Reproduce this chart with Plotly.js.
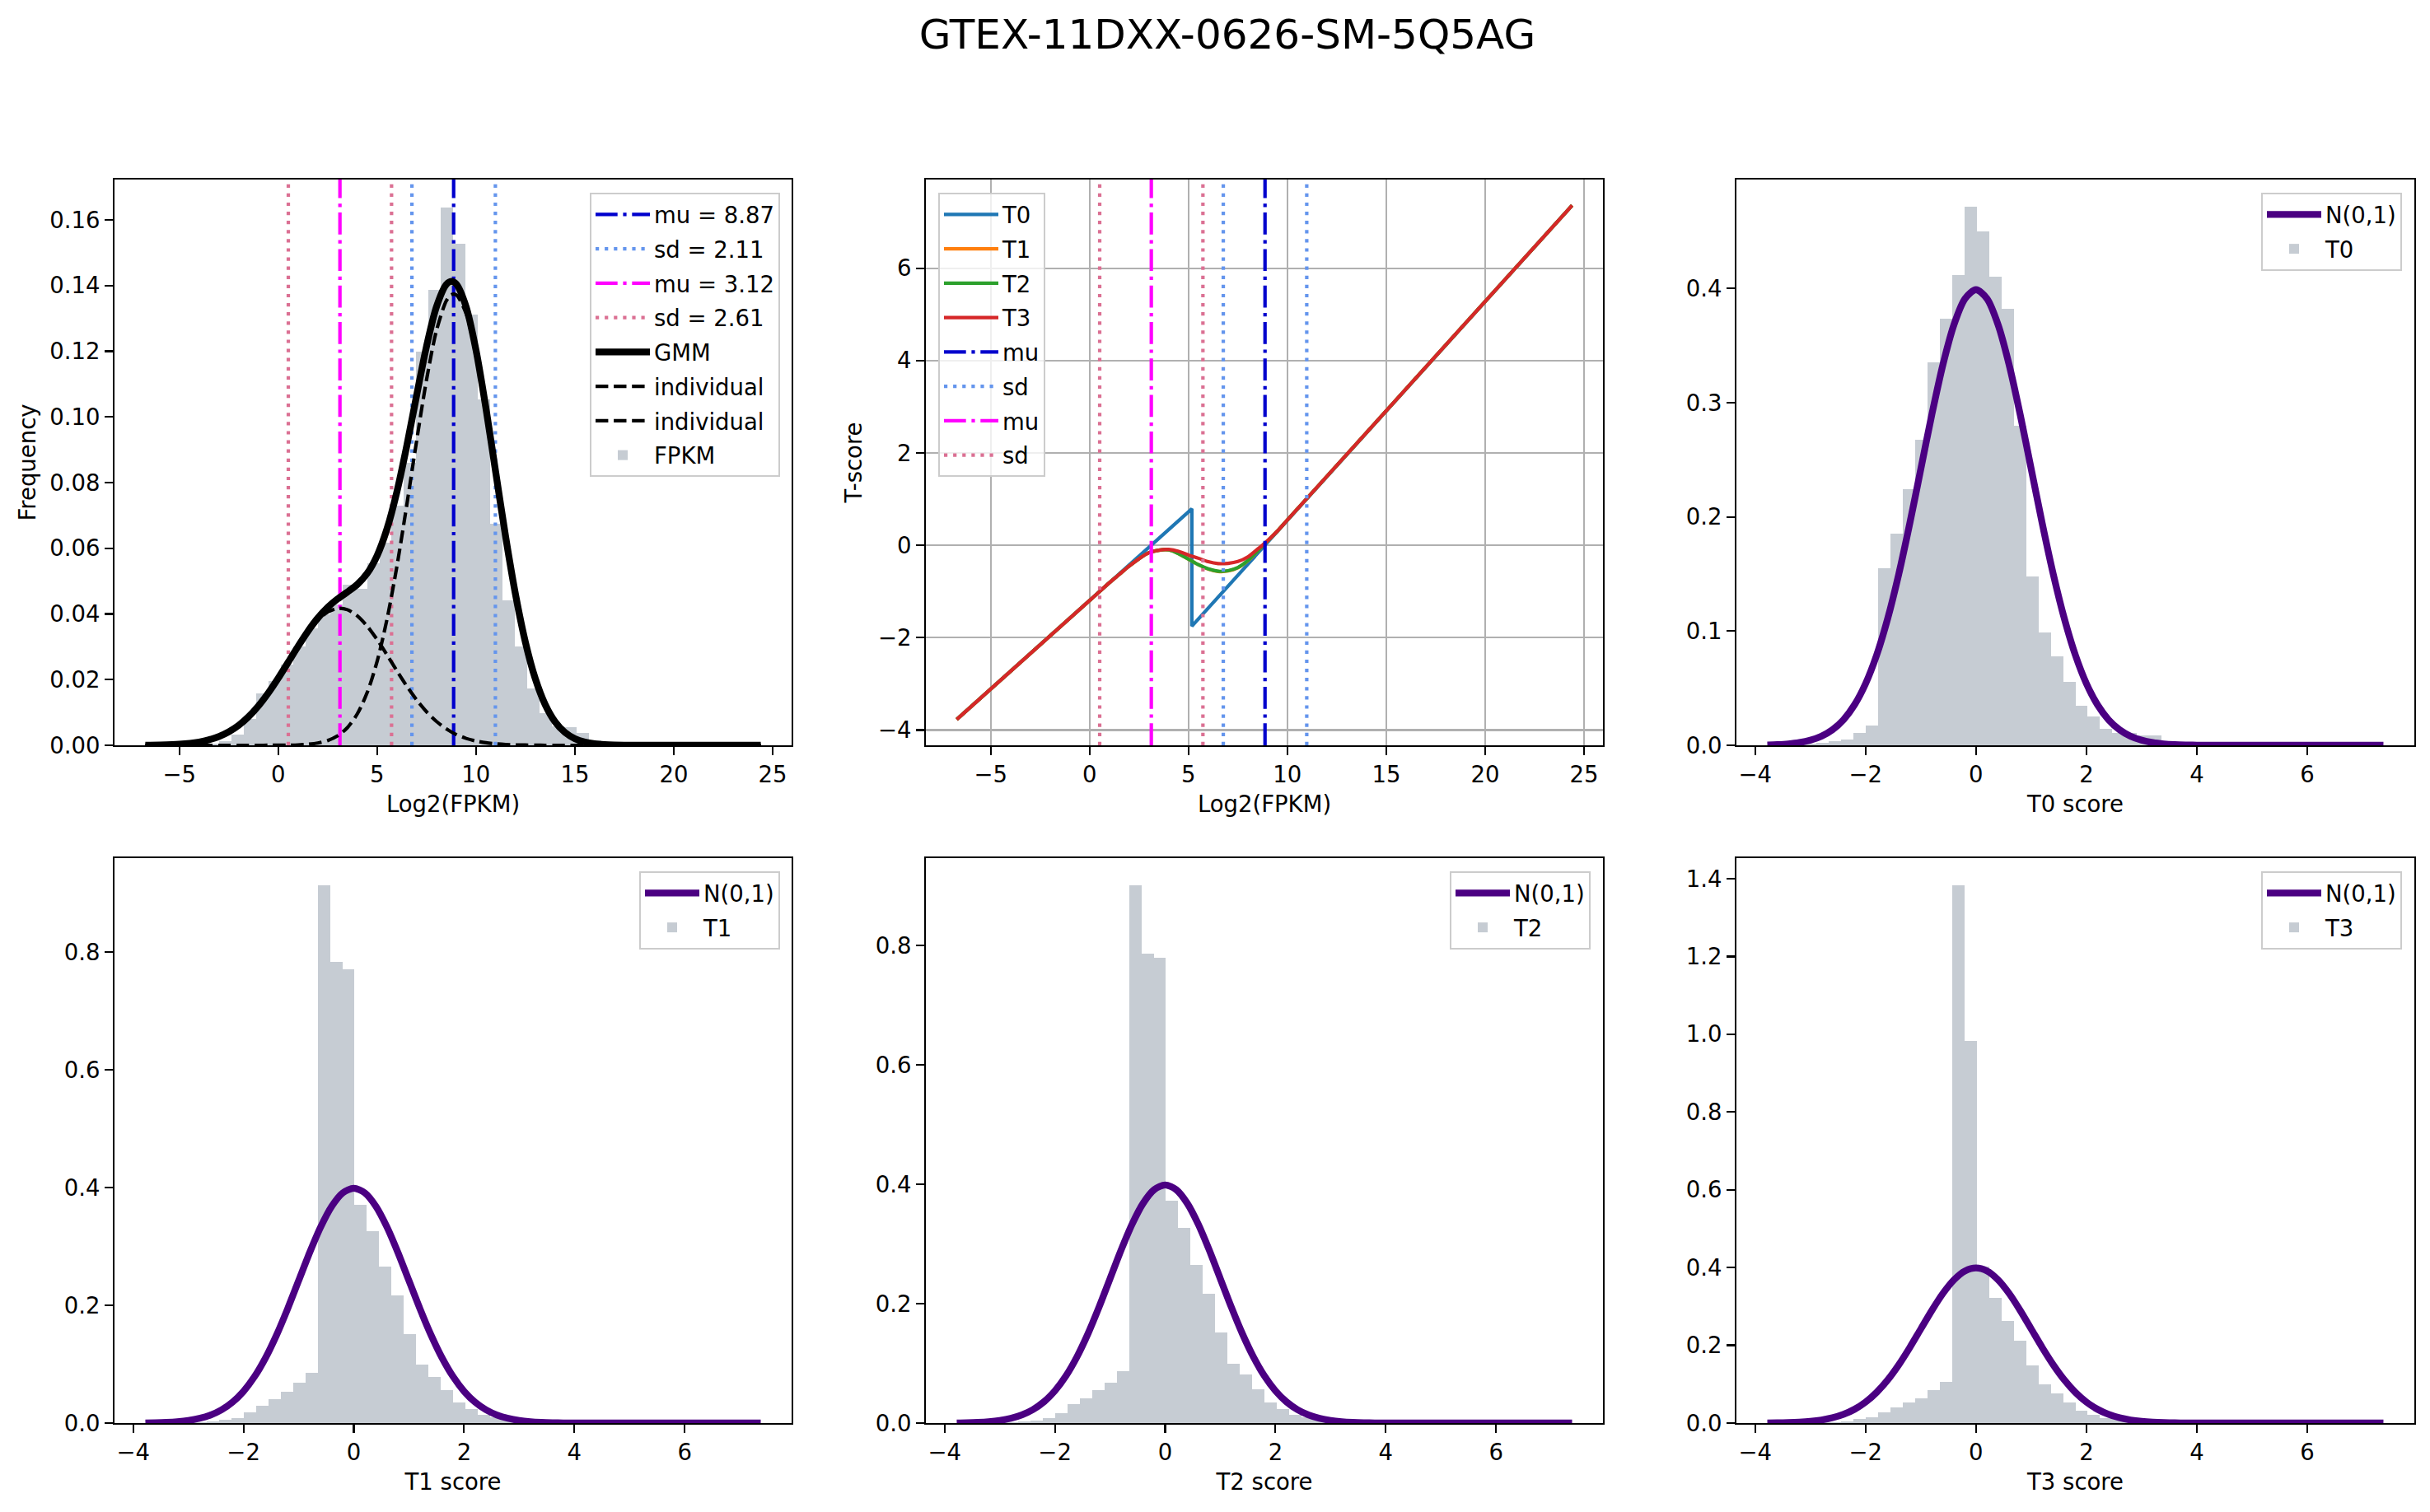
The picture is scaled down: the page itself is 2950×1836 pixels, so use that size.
<!DOCTYPE html>
<html>
<head>
<meta charset="utf-8">
<script src="https://cdn.plot.ly/plotly-3.0.1.min.js"></script>
<style>html,body{margin:0;padding:0;background:#fff;}#chart{width:2950px;height:1836px;}</style>
</head>
<body>
<div id="chart"></div>
<script>
// ---------------- DATA ----------------
const figTitle = 'GTEX-11DXX-0626-SM-5Q5AG';

// GMM parameters (as printed in the legend)
const mu1 = 8.87, sd1 = 2.11, mu2 = 3.12, sd2 = 2.61;

// Panel 1: histogram of Log2(FPKM), 50 bins, density
const fpkmLo = -6.74, fpkmHi = 24.45;
const fpkmDensity = [0.0001,0.0001,0.0001,0.0002,0.0003,0.0006,0.0013,0.0032,0.0081,0.0157,
  0.0196,0.0245,0.0300,0.0355,0.0400,0.0430,0.0489,0.0476,0.0555,0.0618,
  0.0730,0.0860,0.1200,0.1388,0.1638,0.1527,0.1311,0.1054,0.0674,0.0442,
  0.0300,0.0172,0.0098,0.0057,0.0055,0.0038,0.0015,0.0006,0.0003,0.0001,
  0,0,0,0,0,0,0,0,0,0.0001];

// Panel 1: GMM curve and its two components
const gmmX = [-6.72,-6,-5,-4,-3.5,-3,-2.5,-2,-1.5,-1,-0.5,0,0.5,1,1.5,2,2.5,3,3.5,4,4.5,5,5.5,6,6.5,7,7.5,8,8.5,8.75,9,9.5,10,10.5,11,11.5,12,12.5,13,13.5,14,14.5,15,15.5,16,16.5,17,18,20,24.4];
const gmmY = [0.00003,0.00009,0.00033,0.00101,0.00167,0.00267,0.00411,0.00609,0.00871,0.01201,0.01596,0.02044,0.02526,0.03013,0.03473,0.03875,0.04201,0.04456,0.04668,0.04900,0.05238,0.05777,0.06593,0.07720,0.09120,0.10663,0.12154,0.13353,0.14035,0.14131,0.14050,0.13357,0.12039,0.10277,0.08303,0.06346,0.04588,0.03137,0.02028,0.01239,0.00715,0.00391,0.00202,0.00099,0.00046,0.00020,0.00008,0.00001,0,0];
const compHighY = [0,0,0,0,0,0,0,0,0,0,0.00001,0.00002,0.00005,0.00013,0.00031,0.00069,0.00144,0.00287,0.00539,0.00958,0.01610,0.02557,0.03839,0.05450,0.07316,0.09281,0.11133,0.12626,0.13536,0.13724,0.13720,0.13147,0.11910,0.10200,0.08259,0.06322,0.04575,0.03130,0.02025,0.01239,0.00715,0.00391,0.00202,0.00099,0.00046,0.00020,0.00008,0.00001,0,0];
const compLowY = [0.00003,0.00009,0.00033,0.00101,0.00167,0.00267,0.00411,0.00609,0.00871,0.01201,0.01595,0.02042,0.02521,0.03000,0.03442,0.03806,0.04057,0.04169,0.04129,0.03942,0.03628,0.03220,0.02754,0.02270,0.01804,0.01382,0.01021,0.00727,0.00499,0.00407,0.00330,0.00210,0.00129,0.00077,0.00044,0.00024,0.00013,0.00007,0.00003,0,0,0,0,0,0,0,0,0,0,0];

// Panel 2: T-scores versus Log2(FPKM)
const t0X = [-6.72, 5.17, 5.17, 24.40];
const t0Y = [-3.77, 0.79, -1.75, 7.36];
const tX  = [-6.72,0,1,1.5,2,2.5,3,3.5,4,4.5,5,5.5,6,6.5,7,7.5,8,8.5,8.87,9.5,10,11,24.40];
const t1Y = [-3.77,-1.195,-0.81,-0.63,-0.45,-0.29,-0.16,-0.105,-0.10,-0.18,-0.30,-0.42,-0.515,-0.565,-0.555,-0.485,-0.335,-0.12,0.04,0.31,0.55,1.02,7.36];
const t2Y = [-3.77,-1.195,-0.81,-0.63,-0.45,-0.29,-0.16,-0.105,-0.10,-0.18,-0.30,-0.42,-0.51,-0.56,-0.55,-0.48,-0.33,-0.12,0.04,0.31,0.55,1.02,7.36];
const t3Y = [-3.77,-1.195,-0.81,-0.63,-0.45,-0.29,-0.16,-0.105,-0.09,-0.13,-0.21,-0.28,-0.355,-0.395,-0.39,-0.35,-0.25,-0.08,0.05,0.31,0.55,1.02,7.36];

// Panels 3-6: score histograms (50 bins, density) and N(0,1)
const scoreLo = -3.78, scoreHi = 7.38;
const t0Density = [0.0005,0.0005,0.001,0.0015,0.002,0.0037,0.005,0.0105,0.0175,0.1548,
  0.1852,0.2245,0.2677,0.3356,0.3733,0.4115,0.4718,0.4501,0.4106,0.3822,
  0.2800,0.1480,0.0985,0.0778,0.0553,0.0349,0.0253,0.0145,0.0110,0.0110,
  0.0089,0.0089,0.0015,0.0005,0,0,0,0,0,0,0,0,0,0,0,0,0,0,0,0.0005];
const t1Density = [0.0005,0.0005,0.001,0.0015,0.002,0.003,0.005,0.0086,0.018,0.030,
  0.0407,0.0536,0.068,0.0857,0.914,0.784,0.771,0.371,0.326,0.266,
  0.217,0.151,0.100,0.0786,0.0564,0.035,0.0243,0.0136,0.010,0.009,
  0.0075,0.0065,0.0015,0.0005,0,0,0,0,0,0,0,0,0,0,0,0,0,0,0,0.0005];
const t2Density = [0.0005,0.0005,0.001,0.0015,0.002,0.003,0.0045,0.0077,0.017,0.0317,
  0.042,0.055,0.0683,0.0866,0.901,0.787,0.779,0.3725,0.327,0.2655,
  0.217,0.1514,0.100,0.081,0.0563,0.0345,0.024,0.0134,0.010,0.009,
  0.0075,0.0065,0.0015,0.0005,0,0,0,0,0,0,0,0,0,0,0,0,0,0,0,0.0005];
const t3Density = [0.0005,0.0005,0.001,0.0015,0.002,0.003,0.005,0.0097,0.015,0.027,
  0.040,0.053,0.0638,0.0855,0.105,1.3837,0.9824,0.4025,0.3213,0.2618,
  0.211,0.148,0.0985,0.0757,0.054,0.0325,0.0216,0.013,0.010,0.009,
  0.0075,0.0065,0.0015,0.0005,0,0,0,0,0,0,0,0,0,0,0,0,0,0,0,0.0005];

const normX = [-3.78,-3.6,-3.4,-3.2,-3.0,-2.8,-2.6,-2.4,-2.2,-2.0,-1.8,-1.6,-1.4,-1.2,-1.0,-0.8,-0.6,-0.4,-0.2,0,0.2,0.4,0.6,0.8,1.0,1.2,1.4,1.6,1.8,2.0,2.2,2.4,2.6,2.8,3.0,3.2,3.4,3.6,3.8,4.0,4.5,5.0,6.0,7.38];
const normY = [0.00031,0.00061,0.00123,0.00238,0.00443,0.00792,0.01358,0.02239,0.03547,0.05399,0.07895,0.11092,0.14973,0.19419,0.24197,0.28969,0.33322,0.36827,0.39104,0.39894,0.39104,0.36827,0.33322,0.28969,0.24197,0.19419,0.14973,0.11092,0.07895,0.05399,0.03547,0.02239,0.01358,0.00792,0.00443,0.00238,0.00123,0.00061,0.00031,0.00013,0.00002,0,0,0];

// ---------------- STYLE ----------------
const W = 2950, H = 1836;
const FS = 27.5;
const HIST = '#c6ccd3';
const C_MU1 = '#0000cd', C_SD1 = '#6495ed', C_MU2 = '#ff00ff', C_SD2 = '#db7093';
const DASHDOT = '26.7px,6.7px,4.2px,6.7px', DOTTED = '4.2px,6.9px', DASHED = '15.4px,6.7px';
const LW = 4.2, THICK = 8.3;

const xd = [[139/W, 961/W], [1124/W, 1946/W], [2108/W, 2931/W]];
const yTop = [1 - 905/H, 1 - 218/H], yBot = [1 - 1728/H, 1 - 1042/H];
const Y1 = [0, 0.1723], Y2 = [-4.33, 7.92];
const XR1 = [-8.28, 25.96], XRS = [-4.34, 7.94];

function histTrace(lo, hi, dens, name, xa, ya, lg) {
  const n = dens.length, w = (hi - lo) / n;
  const xs = dens.map((_, i) => lo + (i + 0.5) * w);
  return {type:'bar', x:xs, y:dens, width:w, name:name, xaxis:xa, yaxis:ya,
    marker:{color:HIST, line:{width:0}}, legend:lg, legendgroup:lg+name+'h', hoverinfo:'skip'};
}
function vline(xv, yr, color, dash, name, xa, ya, lg, show, grp) {
  return {type:'scatter', mode:'lines', x:[xv, xv], y:yr, name:name, xaxis:xa, yaxis:ya,
    line:{color:color, width:LW, dash:dash}, legend:lg, showlegend:show, legendgroup:grp, hoverinfo:'skip'};
}
function line(xs, ys, color, width, dash, name, xa, ya, lg, grp, shape) {
  return {type:'scatter', mode:'lines', x:xs, y:ys, name:name, xaxis:xa, yaxis:ya,
    line:{color:color, width:width, dash:dash || 'solid', shape:shape || 'spline', smoothing:0.8},
    legend:lg, legendgroup:grp, hoverinfo:'skip'};
}

const traces = [];
// Panel 1
traces.push(vline(mu1, Y1, C_MU1, DASHDOT, 'mu = ' + mu1.toFixed(2), 'x', 'y', 'legend', true, 'a1'));
traces.push(vline(mu1 - sd1, Y1, C_SD1, DOTTED, 'sd = ' + sd1.toFixed(2), 'x', 'y', 'legend', true, 'a2'));
traces.push(vline(mu1 + sd1, Y1, C_SD1, DOTTED, 'sd = ' + sd1.toFixed(2), 'x', 'y', 'legend', false, 'a2'));
traces.push(vline(mu2, Y1, C_MU2, DASHDOT, 'mu = ' + mu2.toFixed(2), 'x', 'y', 'legend', true, 'a3'));
traces.push(vline(mu2 - sd2, Y1, C_SD2, DOTTED, 'sd = ' + sd2.toFixed(2), 'x', 'y', 'legend', true, 'a4'));
traces.push(vline(mu2 + sd2, Y1, C_SD2, DOTTED, 'sd = ' + sd2.toFixed(2), 'x', 'y', 'legend', false, 'a4'));
traces.push(line(gmmX, gmmY, 'black', THICK, 'solid', 'GMM', 'x', 'y', 'legend', 'a5'));
traces.push(line(gmmX, compHighY, 'black', LW, DASHED, 'individual', 'x', 'y', 'legend', 'a6'));
traces.push(line(gmmX, compLowY, 'black', LW, DASHED, 'individual', 'x', 'y', 'legend', 'a7'));
traces.push(histTrace(fpkmLo, fpkmHi, fpkmDensity, 'FPKM', 'x', 'y', 'legend'));

// Panel 2
traces.push(line(t0X, t0Y, '#1f77b4', LW, 'solid', 'T0', 'x2', 'y2', 'legend2', 'b1', 'linear'));
traces.push(line(tX, t1Y, '#ff7f0e', LW, 'solid', 'T1', 'x2', 'y2', 'legend2', 'b2'));
traces.push(line(tX, t2Y, '#2ca02c', LW, 'solid', 'T2', 'x2', 'y2', 'legend2', 'b3'));
traces.push(line(tX, t3Y, '#d62728', LW, 'solid', 'T3', 'x2', 'y2', 'legend2', 'b4'));
traces.push(vline(mu1, Y2, C_MU1, DASHDOT, 'mu', 'x2', 'y2', 'legend2', true, 'b5'));
traces.push(vline(mu1 - sd1, Y2, C_SD1, DOTTED, 'sd', 'x2', 'y2', 'legend2', true, 'b6'));
traces.push(vline(mu1 + sd1, Y2, C_SD1, DOTTED, 'sd', 'x2', 'y2', 'legend2', false, 'b6'));
traces.push(vline(mu2, Y2, C_MU2, DASHDOT, 'mu', 'x2', 'y2', 'legend2', true, 'b7'));
traces.push(vline(mu2 - sd2, Y2, C_SD2, DOTTED, 'sd', 'x2', 'y2', 'legend2', true, 'b8'));
traces.push(vline(mu2 + sd2, Y2, C_SD2, DOTTED, 'sd', 'x2', 'y2', 'legend2', false, 'b8'));

// Panels 3-6
const scorePanels = [
  {d:t0Density, name:'T0', xa:'x3', ya:'y3', lg:'legend3'},
  {d:t1Density, name:'T1', xa:'x4', ya:'y4', lg:'legend4'},
  {d:t2Density, name:'T2', xa:'x5', ya:'y5', lg:'legend5'},
  {d:t3Density, name:'T3', xa:'x6', ya:'y6', lg:'legend6'}
];
scorePanels.forEach((p, i) => {
  traces.push(line(normX, normY, '#4b0082', THICK, 'solid', 'N(0,1)', p.xa, p.ya, p.lg, 'n' + i));
  traces.push(histTrace(scoreLo, scoreHi, p.d, p.name, p.xa, p.ya, p.lg));
});

// ---------------- LAYOUT ----------------
const baseAx = {showline:true, mirror:true, linecolor:'black', linewidth:2.2, ticks:'outside',
  ticklen:9.7, tickwidth:2.2, tickcolor:'black', showgrid:false, zeroline:false,
  tickfont:{size:FS, color:'black'}, fixedrange:true};
function xax(dom, anchor, range, dtick, title, grid) {
  return Object.assign({}, baseAx, {domain:dom, anchor:anchor, range:range, dtick:dtick, tick0:0,
    showgrid:!!grid, gridcolor:'#b0b0b0', gridwidth:2.2,
    title:{text:title, font:{size:FS, color:'black'}, standoff:12}});
}
function yax(dom, anchor, range, dtick, fmt, title, grid, standoff) {
  return Object.assign({}, baseAx, {domain:dom, anchor:anchor, range:range, dtick:dtick, tick0:0,
    tickformat:fmt, showgrid:!!grid, gridcolor:'#b0b0b0', gridwidth:2.2,
    title:{text:title || '', font:{size:FS, color:'black'}, standoff:standoff || 14}});
}
function leg(x, y, xanchor) {
  return {x:x, y:y, xanchor:xanchor, yanchor:'top', xref:'paper', yref:'paper',
    bgcolor:'rgba(255,255,255,0.8)', bordercolor:'#cccccc', borderwidth:2,
    font:{size:FS, color:'black'}, traceorder:'grouped', tracegroupgap:3, itemwidth:66};
}

const layout = {
  width:W, height:H, margin:{l:0, r:0, t:0, b:0},
  paper_bgcolor:'white', plot_bgcolor:'white',
  font:{family:'DejaVu Sans', size:FS, color:'black'},
  title:{text:figTitle, font:{size:50, color:'black'}, x:1490/W, xanchor:'center', y:1 - 41/H, yanchor:'middle'},
  barmode:'overlay', bargap:0, hovermode:false,
  xaxis: xax(xd[0], 'y', XR1, 5, 'Log2(FPKM)'),
  yaxis: yax(yTop, 'x', Y1, 0.02, '.2f', 'Frequency', false, 9),
  xaxis2: xax(xd[1], 'y2', XR1, 5, 'Log2(FPKM)', true),
  yaxis2: yax(yTop, 'x2', Y2, 2, 'd', 'T-score', true, 12),
  xaxis3: xax(xd[2], 'y3', XRS, 2, 'T0 score'),
  yaxis3: yax(yTop, 'x3', [0, 0.4954], 0.1, '.1f'),
  xaxis4: xax(xd[0], 'y4', XRS, 2, 'T1 score'),
  yaxis4: yax(yBot, 'x4', [0, 0.9597], 0.2, '.1f'),
  xaxis5: xax(xd[1], 'y5', XRS, 2, 'T2 score'),
  yaxis5: yax(yBot, 'x5', [0, 0.9465], 0.2, '.1f'),
  xaxis6: xax(xd[2], 'y6', XRS, 2, 'T3 score'),
  yaxis6: yax(yBot, 'x6', [0, 1.4529], 0.2, '.1f'),
  legend:  leg(947/W, 1 - 234/H, 'right'),
  legend2: leg(1139/W, 1 - 234/H, 'left'),
  legend3: leg(2916/W, 1 - 234/H, 'right'),
  legend4: leg(947/W, 1 - 1058/H, 'right'),
  legend5: leg(1931/W, 1 - 1058/H, 'right'),
  legend6: leg(2916/W, 1 - 1058/H, 'right'),
  showlegend:true
};

Plotly.newPlot('chart', traces, layout, {staticPlot:true, displayModeBar:false});
</script>
</body>
</html>
